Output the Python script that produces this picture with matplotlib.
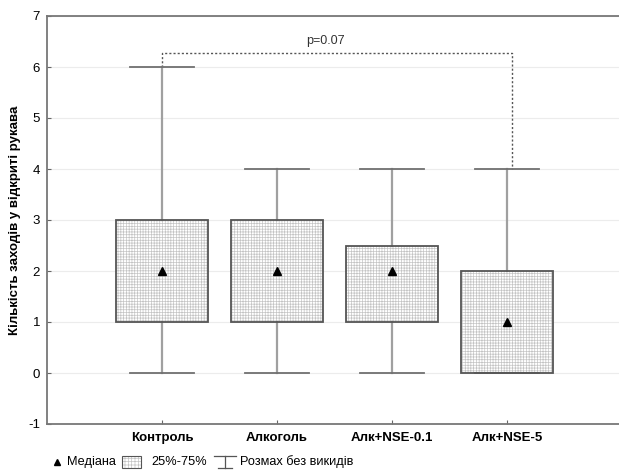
import matplotlib.pyplot as plt
import matplotlib.patches as mpatches
from matplotlib.lines import Line2D

plt.rcParams['font.family'] = ['Liberation Sans', 'DejaVu Sans']
plt.rcParams['axes.unicode_minus'] = False
plt.rcParams['hatch.linewidth'] = 0.5

groups = ['Контроль', 'Алкоголь', 'Алк+NSE-0.1', 'Алк+NSE-5']
medians = [2, 2, 2, 1]
q1 = [1, 1, 1, 0]
q3 = [3, 3, 2.5, 2]
mins = [0, 0, 0, 0]
maxs = [6, 4, 4, 4]

p_text = 'p=0.07'
p_level = 6.28

fig = plt.figure(figsize=(6.19, 4.71), dpi=100)
ax = fig.add_axes([47 / 619, 47 / 471, 575 / 619, 408 / 471])

stats = []
for g, m, a, b, lo, hi in zip(groups, medians, q1, q3, mins, maxs):
    stats.append(dict(label=g, med=m, q1=a, q3=b, whislo=lo, whishi=hi, mean=m, fliers=[]))

positions = range(1, len(groups) + 1)
res = ax.bxp(stats, positions=positions, widths=0.8, capwidths=0.56, patch_artist=True,
             showmeans=True, showfliers=False, manage_ticks=False,
             boxprops=dict(facecolor='white', edgecolor='#c4c4c4', linewidth=0, hatch='++++++'),
             whiskerprops=dict(color='#a0a0a0', linewidth=1.6),
             capprops=dict(color='#707070', linewidth=1.3),
             medianprops=dict(linewidth=0),
             meanprops=dict(marker='^', markerfacecolor='black', markeredgecolor='black', markersize=5.5, zorder=4))
for box in res['boxes']:
    box.set_zorder(2)
    ext = box.get_path().get_extents()
    ax.add_patch(mpatches.Rectangle((ext.x0, ext.y0), ext.width, ext.height, fill=False,
                                    edgecolor='#555555', linewidth=1.3, zorder=3))

# significance bracket
ax.plot([1, 1, 4.04, 4.04], [6, p_level, p_level, 4], linestyle=(0, (1.5, 1.5)),
        color='#555555', linewidth=1, zorder=1)
ax.text(2.42, p_level + 0.12, p_text, ha='center', va='bottom', fontsize=9, color='#333333')

ax.set_xlim(0, 5)
ax.set_ylim(-1, 7)
ax.set_yticks(range(-1, 8))
ax.set_xticks(list(positions))
ax.set_xticklabels(groups, fontweight='bold', fontsize=9)
ax.yaxis.grid(True, color='#ececec', linewidth=0.8)
ax.set_axisbelow(True)
ax.tick_params(direction='in', length=3, color='#666666', labelsize=9.5, pad=6)
ax.tick_params(axis='y', pad=5)
for s in ax.spines.values():
    s.set_color('#777777')
    s.set_linewidth(1.3)
ax.set_ylabel('Кількість заходів у відкриті рукава', fontweight='bold', fontsize=9.5)
ax.yaxis.set_label_coords(-26 / 575, 0.5)

# legend drawn in figure coordinates
yl = 9 / 471
fs = 9.2
fig.add_artist(Line2D([57 / 619], [yl + 0.001], marker='^', color='black', markersize=5,
                      transform=fig.transFigure))
fig.text(67 / 619, yl, 'Медіана', fontsize=fs, va='center')
fig.add_artist(mpatches.Rectangle((122 / 619, yl - 6 / 471), 19 / 619, 12 / 471, transform=fig.transFigure,
                                  facecolor='white', edgecolor='#c4c4c4', hatch='+++++', linewidth=0))
fig.add_artist(mpatches.Rectangle((122 / 619, yl - 6 / 471), 19 / 619, 12 / 471, transform=fig.transFigure,
                                  fill=False, edgecolor='#555555', linewidth=0.8))
fig.text(151 / 619, yl, '25%-75%', fontsize=fs, va='center')
wx0, wx1 = 214 / 619, 236 / 619
wt, wb = yl + 6 / 471, yl - 6 / 471
fig.add_artist(Line2D([wx0, wx1], [wt, wt], color='#555555', linewidth=0.9, transform=fig.transFigure))
fig.add_artist(Line2D([wx0 + 4 / 619, wx1 - 4 / 619], [wb, wb], color='#555555', linewidth=0.9, transform=fig.transFigure))
fig.add_artist(Line2D([(wx0 + wx1) / 2] * 2, [wb, wt], color='#555555', linewidth=0.9, transform=fig.transFigure))
fig.text(240 / 619, yl, 'Розмах без викидів', fontsize=fs, va='center')

fig.savefig('out.png', dpi=100)
